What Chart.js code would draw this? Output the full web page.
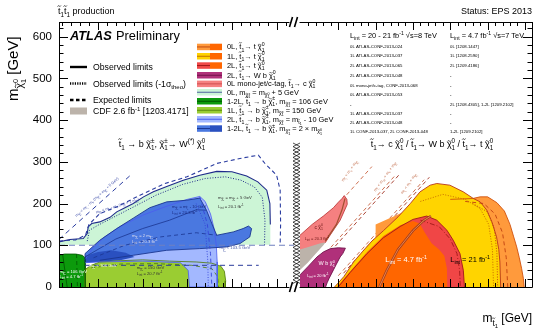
<!DOCTYPE html>
<html>
<head>
<meta charset="utf-8">
<script src="https://cdn.jsdelivr.net/npm/chart.js@4.4.0/dist/chart.umd.min.js"></script>
<style>
  html, body { margin: 0; padding: 0; background: #fff; }
  #wrap { position: relative; width: 549px; height: 331px; overflow: hidden; background: #fff; }
  #wrap canvas { position: absolute; left: 0; top: 0; }
</style>
</head>
<body>
<div id="wrap">
  <canvas id="left" width="549" height="331" style="width:549px;height:331px"></canvas>
  <canvas id="right" width="549" height="331" style="width:549px;height:331px"></canvas>
</div>
<script>
const FONT = '"Liberation Sans", Arial, Helvetica, sans-serif';

// axes (GeV)
const yMax = 635;
const yTicks = [0, 100, 200, 300, 400, 500, 600];
const xLeftRange = [112.7, 639];
const xLeftTicks = [200, 300, 400, 500, 600];
const xRightRange = [97.4, 719];
const xRightTicks = [200, 300, 400, 500, 600, 700];

// ---- left panel: stop -> b chargino  (m_stop, m_LSP) ----
const mintFill = [[112.7,101],[112.7,108],[137,114],[167,116],[176,128],[178,144],[186,152],[204,156],[227,167],[242,180],[257,188],[279,200],[302,216],[324,228],[354,241],[391,256],[428,268],[466,277],[500,276],[533,266],[558,252],[578,232],[585,200],[586,150],[586,101]];
const mintDotted = [[176,110],[181,136],[200,148],[240,170],[280,192],[330,220],[390,246],[440,260],[485,264],[520,256],[550,240],[568,215],[574,160],[573,101]];
const mintExpected = [[112.7,110],[150,113],[172,124],[180,150],[204,176],[242,192],[294,220],[350,248],[399,264],[466,296],[518,308],[559,316],[574,296],[600,268],[608,232],[609,150],[608,104]];
const greenDark = [[112.7,0],[112.7,76],[125,79],[150,79],[165,76],[171,70],[172,40],[171,0]];
const greenLight = [[170,0],[171,42],[185,52],[204,60],[250,63],[300,65],[360,62],[420,60],[455,57],[475,50],[483,38],[486,15],[485,0]];
const greenLightExp = [[185,46],[250,55],[330,56],[410,52],[455,44],[468,25],[470,0]];
const blueLight = [[171,66],[190,95],[215,120],[250,145],[300,172],[350,192],[400,210],[428,217],[440,205],[452,175],[460,140],[465,100],[467,60],[467,0],[405,0],[402,40],[385,58],[300,62],[200,60],[171,58]];
const blueMid = [[171,60],[171,80],[204,112],[242,140],[279,165],[316,190],[354,204],[399,208],[428,213],[443,184],[458,144],[466,124],[503,132],[525,140],[537,146],[544,140],[540,120],[518,104],[488,96],[428,92],[354,88],[279,76],[204,64]];
const blueDark = [[171,58],[171,74],[200,84],[230,88],[262,82],[282,72],[250,64],[200,60]];
const blueInner1 = [[171,72],[240,115],[300,140],[360,160],[420,185],[443,184]];
const blueInner2 = [[190,70],[260,100],[340,120],[420,130],[466,124]];
const blueVertDash = [[428,216],[445,150],[452,80],[455,0]];
const blueVertDot = [[420,200],[440,150],[446,60],[447,0]];
const lepLine = [[112.7,100],[639,100]];
const lepLine2 = [[171,52],[560,52]];
const kinLeft = [[112.7,114],[273,268]];

// ---- right panel: stop -> c / W b / t LSP ----
const pinkFill = [[97.4,88],[97.4,124],[130,150],[160,170],[187,190],[200,203],[210,212],[216,219],[223,210],[224,198],[215,180],[205,160],[190,140],[175,120],[165,106]];
const pinkInner = [[165,110],[195,150],[210,185],[218,212]];
const cdfFill = [[97.4,41],[118,58],[140,80],[160,100],[166,107],[150,104],[120,96],[97.4,90]];
const wbFill = [[97.4,0],[97.4,29],[120,50],[143,72],[160,84],[179,92],[200,94],[219,93],[212,80],[205,72],[195,55],[187,41],[175,20],[170,10],[166,0]];
const zeroLFill = [[300,0],[300,150],[400,190],[500,210],[560,212],[580,216],[600,216],[625,202],[645,182],[660,150],[670,120],[678,96],[685,70],[691,45],[696,20],[698,0]];
const zeroLExp = [[540,205],[590,200],[620,175],[640,130],[650,70],[654,0]];
const zeroLDot = [[560,200],[600,180],[618,140],[625,80],[627,0]];
const oneLFill = [[190,0],[215,25],[241,60],[265,85],[290,110],[321,135],[360,168],[393,200],[419,228],[446,244],[464,248],[499,244],[535,228],[562,212],[580,204],[598,184],[612,155],[624,120],[630,90],[633,60],[635,0]];
const oneLExp = [[420,205],[480,222],[540,210],[580,188],[603,150],[613,90],[616,0]];
const twoLFill = [[200,0],[232,35],[277,80],[321,118],[366,145],[400,162],[437,170],[464,160],[491,136],[508,112],[526,80],[535,40],[538,0]];
const twoLExp = [[420,160],[470,145],[500,115],[518,80],[525,40],[527,0]];
const sevenTeVFill = [[196,0],[232,38],[277,84],[321,122],[366,148],[400,158],[418,152],[432,130],[450,105],[470,90],[484,75],[491,45],[492,0]];
const sevenTeV1L = [[310,0],[330,40],[360,90],[400,135],[430,160],[448,170]];
const kinC = [[97.4,96],[290,288.5]];
const kinW = [[180,95],[355,270]];
const kinW2 = [[192,98],[366,272]];
const kinT = [[200,27],[430,257]];
const kinT2 = [[214,33],[444,263]];

// ---- legend / text content ----
const styleRows = ['Observed limits', 'Observed limits (-1σ_{theo})', 'Expected limits', 'CDF 2.6 fb^{-1} [1203.4171]'];
const legendRows = [
  '0L, ~t_{1}→ t ~χ^{0}_{1}',
  '1L, ~t_{1}→ t ~χ^{0}_{1}',
  '2L, ~t_{1}→ t ~χ^{0}_{1}',
  '2L, ~t_{1}→ W b ~χ^{0}_{1}',
  '0L mono-jet/c-tag, ~t_{1}→ c ~χ^{0}_{1}',
  '0L, m_{~χ^{±}_{1}} = m_{~χ^{0}_{1}} + 5 GeV',
  '1-2L, ~t_{1} → b ~χ^{±}_{1}, m_{~χ^{±}_{1}} = 106 GeV',
  '1L, ~t_{1} → b ~χ^{±}_{1}, m_{~χ^{±}_{1}} = 150 GeV',
  '2L, ~t_{1} → b ~χ^{±}_{1}, m_{~χ^{±}_{1}} = m_{~t_{1}} - 10 GeV',
  '1-2L, ~t_{1} → b ~χ^{±}_{1}, m_{~χ^{±}_{1}} = 2 × m_{~χ^{0}_{1}}'
];
const legendColors = [
  ['#ff9a3c', '#ff6600', '#c04a10'], ['#ffd200', '#ff6600', '#c07000'], ['#f04848', '#ff6600', '#a01818'],
  ['#b0307a', '#b0307a', '#701048'], ['#f58080', '#f58080', '#d05050'], ['#ccf5d6', '#ccf5d6', '#5060a0'],
  ['#0c9a0c', '#0c9a0c', '#005500'], ['#9acd32', '#9acd32', '#5a8a10'], ['#a3b8ff', '#a3b8ff', '#4a5cf0'],
  ['#4a78e0', '#2a50c0', '#1a3590']
];
const refs8TeV = ['0L ATLAS-CONF-2013-024', '1L ATLAS-CONF-2013-037', '2L ATLAS-CONF-2013-065', '2L ATLAS-CONF-2013-048',
  '0L mono-jet/c-tag, CONF-2013-068', '0L ATLAS-CONF-2013-053', '-', '1L ATLAS-CONF-2013-037', '2L ATLAS-CONF-2013-048',
  '1L CONF-2013-037, 2L CONF-2013-048'];
const refs7TeV = ['0L [1208.1447]', '1L [1208.2590]', '2L [1209.4186]', '-', '-', '-', '2L [1208.4305], 1-2L [1209.2102]', '-', '-', '1-2L [1209.2102]'];

// region labels: [text, m_stop, m_LSP, colour, size]
const leftLabels = [
  ['m_{~χ^{±}_{1}} = 106 GeV', 114, 34, '#fff', 4.2],
  ['L_{int} = 4.7 fb^{-1}', 114, 21, '#fff', 4.2],
  ['m_{~χ^{±}_{1}} < 106 GeV', 180, 48, '#eef', 4.2],
  ['m_{~χ^{±}_{1}} = 150 GeV', 287, 43, '#333', 4.2],
  ['L_{int} = 20.7 fb^{-1}', 287, 29, '#333', 4.2],
  ['m_{~χ^{±}_{1}} = m_{~χ^{0}_{1}} + 5 GeV', 469, 212, '#333', 4.2],
  ['L_{int} = 20.1 fb^{-1}', 469, 190, '#333', 4.2],
  ['m_{~χ^{±}_{1}} = m_{~t_{1}} - 10 GeV', 366, 190, '#1a2a80', 4.2],
  ['L_{int} = 20.3 fb^{-1}', 366, 176, '#1a2a80', 4.2],
  ['m_{~χ^{±}_{1}} = 2 m_{~χ^{0}_{1}}', 276, 120, '#dde', 4.2],
  ['L_{int} = 20.3 fb^{-1}', 276, 106, '#dde', 4.2],
  ['m_{~χ^{±}_{1}} < 103.5 GeV', 472, 90, '#4a5aa8', 4.2]
];
const rightLabels = [
  ['c ~χ^{0}_{1}', 136, 140, '#701818', 5],
  ['L_{int} = 20.3 fb^{-1}', 110, 113, '#701818', 4],
  ['W b ~χ^{0}_{1}', 147, 52, '#fff', 5.5],
  ['L_{int} = 20 fb^{-1}', 117, 25, '#fff', 4],
  ['L_{int} = 4.7 fb^{-1}', 326, 60, '#fff', 7.5],
  ['L_{int} = 21 fb^{-1}', 500, 60, '#000', 7.5]
];

// ---- rich text helper: _{} sub, ^{} sup, ~x puts a tilde over x ----
function layout(ctx, s, size, scale, dy, x, out, pre) {
  let buf = '', i = 0, lastGroup = null;
  const flush = () => {
    if (!buf) return;
    ctx.font = pre + (size * scale).toFixed(2) + 'px ' + FONT;
    const w = ctx.measureText(buf.replace(/~/g, '')).width;
    out.push({t: buf, sz: size * scale, dy: dy * size, x});
    x += w; buf = ''; lastGroup = null;
  };
  while (i < s.length) {
    const c = s[i];
    if ((c === '_' || c === '^') && s[i + 1] === '{') {
      flush();
      let depth = 1, j = i + 2;
      while (j < s.length && depth) { if (s[j] === '{') depth++; else if (s[j] === '}') depth--; j++; }
      const inner = s.slice(i + 2, j - 1);
      const shift = c === '_' ? 0.3 : -0.42;
      if (lastGroup && lastGroup.kind !== c) {
        const end = layout(ctx, inner, size, scale * 0.7, dy + shift * scale, lastGroup.x0, out, pre);
        x = Math.max(lastGroup.x1, end);
        lastGroup = null;
      } else {
        const x0 = x;
        x = layout(ctx, inner, size, scale * 0.7, dy + shift * scale, x, out, pre);
        lastGroup = {kind: c, x0, x1: x};
      }
      i = j;
    } else { buf += c; i++; }
  }
  flush();
  return x;
}

function tilde(ctx, cx, cy, w, sz) {
  const h = sz * 0.07;
  ctx.beginPath();
  ctx.lineWidth = Math.max(0.45, sz * 0.07);
  ctx.moveTo(cx - w / 2, cy + h);
  ctx.quadraticCurveTo(cx - w / 4, cy - 2 * h, cx, cy);
  ctx.quadraticCurveTo(cx + w / 4, cy + 2 * h, cx + w / 2, cy - h);
  ctx.stroke();
}

function drawText(ctx, s, x, y, size, o) {
  o = o || {};
  const pre = (o.italic ? 'italic ' : '') + (o.bold ? 'bold ' : '');
  const segs = [];
  const w = layout(ctx, s, size, 1, 0, 0, segs, pre);
  const off = o.align === 'right' ? -w : o.align === 'center' ? -w / 2 : 0;
  ctx.save();
  ctx.translate(x, y);
  if (o.rotate) ctx.rotate(o.rotate);
  ctx.fillStyle = o.color || '#000';
  ctx.strokeStyle = o.color || '#000';
  ctx.textAlign = 'left';
  ctx.textBaseline = 'alphabetic';
  for (const sg of segs) {
    ctx.font = pre + sg.sz.toFixed(2) + 'px ' + FONT;
    let cx = off + sg.x;
    const parts = sg.t.split('~');
    parts.forEach((p, k) => {
      if (!p) return;
      if (k > 0) {
        const cw = ctx.measureText(p[0]).width;
        const tall = /[A-Zbdfhklt]/.test(p[0]);
        tilde(ctx, cx + cw / 2, sg.dy - sg.sz * (tall ? 0.88 : 0.66), Math.max(cw, sg.sz * 0.42) * 0.9, sg.sz);
      }
      ctx.fillText(p, cx, sg.dy);
      cx += ctx.measureText(p).width;
    });
  }
  ctx.restore();
  return w;
}

// ---- dataset builders ----
const pts = a => a.map(p => ({x: p[0], y: p[1]}));
const area = (a, color) => ({data: pts(a), backgroundColor: color, borderWidth: 0, fill: 'shape', pointRadius: 0});
const curve = (a, color, width, dash) => ({data: pts(a), borderColor: color, borderWidth: width, borderDash: dash || [], fill: false, pointRadius: 0, borderCapStyle: 'butt'});
// first in the list is drawn at the bottom
const layered = list => list.map((d, i) => Object.assign(d, {order: list.length - i}));

const DOT = [1, 1.6], DASH = [4, 3];

const leftDatasets = layered([
  area(mintFill, '#ccf5d6'),
  area(greenLight, '#9acd32'),
  area(blueLight, '#a3b8ff'),
  area(blueMid, '#4a78e0'),
  area(blueDark, '#2a50c0'),
  area(greenDark, '#0c9a0c'),
  curve(greenDark, '#005500', 0.8),
  curve([[121,77],[131,0]], '#005500', 0.8),
  curve([[152,79],[154,0]], '#005500', 0.8, DASH),
  curve(greenLight, '#4c7a00', 0.8),
  curve(greenLightExp, '#4c7a00', 0.8, DASH),
  curve(blueLight, '#4a5cf0', 0.8),
  curve(blueMid, '#1a3590', 0.9),
  curve(blueInner1, '#1a3590', 0.8),
  curve(blueInner2, '#1a3590', 0.8, DASH),
  curve(blueVertDash, '#3545d8', 0.9, DASH),
  curve(blueVertDot, '#3545d8', 0.9, DOT),
  curve(mintFill.slice(1, -1), '#1f2a8a', 1.1),
  curve(mintDotted, '#1f2a8a', 1, DOT),
  curve(mintExpected, '#2a3ca0', 1.1, DASH),
  curve(lepLine, '#7080c0', 1.2, [6, 4]),
  curve(lepLine2, '#2a3a9a', 1, [5, 4]),
  curve(kinLeft, '#2a3ca0', 1, [5, 4])
]);

const rightDatasets = layered([
  curve(kinC, '#c8603c', 0.9, DASH),
  curve(kinW, '#c8603c', 0.9, DASH),
  curve(kinW2, '#a03020', 0.9, DASH),
  curve(kinT, '#c8603c', 0.9, DASH),
  curve(kinT2, '#a03020', 0.9, DASH),
  area(pinkFill, '#f58080'),
  area(cdfFill, '#bcb3aa'),
  area(wbFill, '#b0307a'),
  area(zeroLFill, '#ff9a3c'),
  area(oneLFill, '#ffd400'),
  area(twoLFill, '#f04646'),
  area(sevenTeVFill, '#ff6600'),
  curve(pinkFill.slice(1), '#b83030', 0.8),
  curve(pinkInner, '#a05030', 1.2),
  curve(wbFill.slice(1), '#701048', 0.9),
  curve(zeroLFill.slice(3), '#d0500c', 0.9),
  curve(zeroLExp, '#c04010', 0.9, DASH),
  curve(zeroLDot, '#c04010', 0.9, DOT),
  curve(oneLFill, '#b83818', 0.9),
  curve(oneLExp, '#c06000', 0.9, DOT),
  curve(twoLFill, '#a01818', 0.9),
  curve(twoLExp, '#a01818', 0.9, [5, 2, 1, 2]),
  curve(sevenTeV1L, '#a04020', 2.4),
  curve(sevenTeV1L, '#ff9050', 0.8)
]);

// ---- frame with inward ticks ----
const leftFrame = {
  id: 'leftFrame',
  afterDatasetsDraw(chart) {
    const {ctx, scales: {x, y}} = chart;
    for (const [t, m, v, c, s] of leftLabels) drawText(ctx, t, x.getPixelForValue(m), y.getPixelForValue(v), s, {color: c});
    drawText(ctx, 'm_{~χ^{±}_{1}} < m_{~t_{1}} - m_{b} (m_{~χ^{±}_{1}} = m_{~χ^{0}_{1}} + 5 GeV)',
      x.getPixelForValue(152), y.getPixelForValue(168), 3.8, {color: '#3a4aa8', rotate: -0.73});
    drawText(ctx, 'm_{~χ^{±}_{1}} < m_{~t_{1}} - m_{b} (m_{~χ^{±}_{1}} = 2 m_{~χ^{0}_{1}})',
      x.getPixelForValue(196), y.getPixelForValue(176), 3.8, {color: '#3a4aa8', rotate: -0.3});
  },
  afterDraw(chart) {
    const {ctx, chartArea: a, scales: {x, y}} = chart;
    const brk = 289.5;
    ctx.save();
    ctx.strokeStyle = '#000';
    ctx.lineWidth = 1;
    ctx.beginPath();
    ctx.moveTo(a.left + 0.5, a.top + 0.5); ctx.lineTo(a.left + 0.5, a.bottom + 0.5);
    ctx.moveTo(a.left, a.top + 0.5); ctx.lineTo(brk, a.top + 0.5);
    ctx.moveTo(a.left, a.bottom + 0.5); ctx.lineTo(brk, a.bottom + 0.5);
    for (let v = 20; v < yMax; v += 20) {
      const py = Math.round(y.getPixelForValue(v)) + 0.5;
      ctx.moveTo(a.left, py); ctx.lineTo(a.left + (v % 100 ? 4.5 : 9), py);
    }
    for (let m = 120; m < x.max; m += 20) {
      const px = Math.round(x.getPixelForValue(m)) + 0.5;
      if (px > brk - 2) break;
      const len = m % 100 ? 4 : 8;
      ctx.moveTo(px, a.bottom); ctx.lineTo(px, a.bottom - len);
      ctx.moveTo(px, a.top); ctx.lineTo(px, a.top + len);
    }
    ctx.stroke();
    ctx.restore();
  }
};

const rightFrame = {
  id: 'rightFrame',
  afterDatasetsDraw(chart) {
    const {ctx, scales: {x, y}} = chart;
    for (const [t, m, v, c, s] of rightLabels) drawText(ctx, t, x.getPixelForValue(m), y.getPixelForValue(v), s, {color: c});
    const kinLabels = [['m_{~t_{1}} < m_{c} + m_{~χ^{0}_{1}}', 213, 252], ['m_{~t_{1}} < m_{W} + m_{b} + m_{~χ^{0}_{1}}', 300, 228], ['m_{~t_{1}} < m_{t} + m_{~χ^{0}_{1}}', 372, 222]];
    for (const [t, m, v] of kinLabels) drawText(ctx, t, x.getPixelForValue(m), y.getPixelForValue(v), 4, {color: '#c06a48', rotate: -0.95});
  },
  afterDraw(chart) {
    const {ctx, chartArea: a, scales: {x, y}} = chart;
    const start = 299.5;
    ctx.save();
    ctx.strokeStyle = '#000';
    ctx.lineWidth = 1;
    ctx.beginPath();
    ctx.moveTo(start, a.top + 0.5); ctx.lineTo(a.right + 0.5, a.top + 0.5);
    ctx.moveTo(start, a.bottom + 0.5); ctx.lineTo(a.right + 0.5, a.bottom + 0.5);
    ctx.moveTo(a.right + 0.5, a.top); ctx.lineTo(a.right + 0.5, a.bottom + 0.5);
    for (let v = 20; v < yMax; v += 20) {
      const py = Math.round(y.getPixelForValue(v)) + 0.5;
      ctx.moveTo(a.right, py); ctx.lineTo(a.right - (v % 100 ? 4.5 : 9), py);
    }
    for (let m = 120; m < x.max; m += 20) {
      const px = Math.round(x.getPixelForValue(m)) + 0.5;
      if (px < start + 2) continue;
      const len = m % 100 ? 4 : 8;
      ctx.moveTo(px, a.bottom); ctx.lineTo(px, a.bottom - len);
      ctx.moveTo(px, a.top); ctx.lineTo(px, a.top + len);
    }
    ctx.stroke();
    // axis break marks
    ctx.lineWidth = 1.6;
    ctx.beginPath();
    for (const yy of [a.top, a.bottom]) {
      ctx.moveTo(289.5, yy + 5); ctx.lineTo(292.5, yy - 5);
      ctx.moveTo(294.5, yy + 5); ctx.lineTo(297.5, yy - 5);
    }
    ctx.stroke();
    // hatched gap column
    ctx.lineWidth = 0.7;
    ctx.beginPath();
    for (let yy = 143; yy < 281; yy += 3.6) {
      ctx.moveTo(293, yy); ctx.lineTo(300, yy + 3.6);
      ctx.moveTo(300, yy); ctx.lineTo(293, yy + 3.6);
    }
    ctx.stroke();
    ctx.restore();

    // titles and legends
    drawText(ctx, '~t_{1}~t_{1} production', 58, 14, 9);
    drawText(ctx, 'Status: EPS 2013', 532, 14, 9, {align: 'right'});
    drawText(ctx, 'ATLAS', 70, 39.5, 12.8, {bold: true, italic: true});
    drawText(ctx, 'Preliminary', 116, 39.5, 12.8);

    const rowsY = [67, 83.5, 100, 111];
    ctx.save();
    ctx.strokeStyle = '#000';
    ctx.lineWidth = 2.4;
    ctx.beginPath(); ctx.moveTo(70, rowsY[0]); ctx.lineTo(87, rowsY[0]); ctx.stroke();
    ctx.setLineDash([1.2, 1.2]);
    ctx.beginPath(); ctx.moveTo(70, rowsY[1]); ctx.lineTo(87, rowsY[1]); ctx.stroke();
    ctx.setLineDash([3.5, 2.5]);
    ctx.beginPath(); ctx.moveTo(70, rowsY[2]); ctx.lineTo(87, rowsY[2]); ctx.stroke();
    ctx.setLineDash([]);
    ctx.fillStyle = '#bcb3aa';
    ctx.fillRect(70, rowsY[3] - 3.5, 17, 7);
    ctx.restore();
    styleRows.forEach((t, i) => drawText(ctx, t, 93, rowsY[i] + 3.2, 8.7));

    const swY = [46.7, 56, 65.3, 75, 83.6, 92, 101, 110, 119, 128.3];
    legendColors.forEach(([c1, c2, ln], i) => {
      const cy = swY[i];
      ctx.fillStyle = c1; ctx.fillRect(197, cy - 3, 13, 6.5);
      ctx.fillStyle = c2; ctx.fillRect(210, cy - 3, 12, 6.5);
      ctx.strokeStyle = ln; ctx.lineWidth = 1;
      ctx.beginPath(); ctx.moveTo(197, cy + 0.25); ctx.lineTo(c1 === c2 ? 222 : 210, cy + 0.25); ctx.stroke();
      drawText(ctx, legendRows[i], 227, cy + 2.6, 7.4);
    });

    drawText(ctx, 'L_{int} = 20 - 21 fb^{-1} √s=8 TeV', 350, 38, 7.4);
    drawText(ctx, 'L_{int} = 4.7 fb^{-1} √s=7 TeV', 450, 38, 7.4);
    const refY = [47.5, 57.3, 67.3, 76.5, 86.5, 96.3, 105.8, 114.8, 123.8, 133.2];
    refs8TeV.forEach((t, i) => drawText(ctx, t, 350, refY[i], 4.3));
    refs7TeV.forEach((t, i) => drawText(ctx, t, 450, refY[i], 4.3));

    drawText(ctx, '~t_{1} → b ~χ^{±}_{1}, ~χ^{±}_{1}→ W^{(*)} ~χ^{0}_{1}', 162, 147, 9, {align: 'center'});
    drawText(ctx, '~t_{1}→ c ~χ^{0}_{1} / ~t_{1}→ W b ~χ^{0}_{1} / ~t_{1}→ t ~χ^{0}_{1}', 432, 147, 9, {align: 'center'});

    drawText(ctx, 'm_{~t_{1}} [GeV]', 532, 322, 12, {align: 'right'});
    drawText(ctx, 'm_{~χ^{0}_{1}} [GeV]', 18, 101, 15, {rotate: -Math.PI / 2});
  }
};

function axisOptions(range, tickList, leftPad, rightPad, showY) {
  return {
    responsive: false,
    animation: false,
    events: [],
    layout: {padding: {left: leftPad, right: rightPad, top: 22, bottom: 0}},
    plugins: {legend: {display: false}, tooltip: {enabled: false}},
    scales: {
      x: {
        type: 'linear', bounds: 'data', min: range[0], max: range[1],
        afterFit: s => { s.height = 44; },
        grid: {display: false, drawTicks: false}, border: {display: false},
        ticks: {stepSize: 100, autoSkip: false, maxRotation: 0, padding: 5, color: '#000',
          font: {size: 11.5, family: FONT}, callback: v => tickList.includes(v) ? String(v) : ''}
      },
      y: {
        type: 'linear', bounds: 'data', min: 0, max: yMax, display: showY,
        afterFit: s => { s.width = showY ? 59 : 0; },
        grid: {display: false, drawTicks: false}, border: {display: false},
        ticks: {stepSize: 100, padding: 7, color: '#000', font: {size: 11.5, family: FONT},
          callback: v => yTicks.includes(v) ? String(v) : ''}
      }
    }
  };
}

Chart.defaults.font.family = FONT;

new Chart(document.getElementById('left').getContext('2d'), {
  type: 'line',
  data: {datasets: leftDatasets},
  options: axisOptions(xLeftRange, xLeftTicks, 0, 549 - 294, true),
  plugins: [leftFrame]
});

new Chart(document.getElementById('right').getContext('2d'), {
  type: 'line',
  data: {datasets: rightDatasets},
  options: axisOptions(xRightRange, xRightTicks, 300, 549 - 532, false),
  plugins: [rightFrame]
});
</script>
</body>
</html>
